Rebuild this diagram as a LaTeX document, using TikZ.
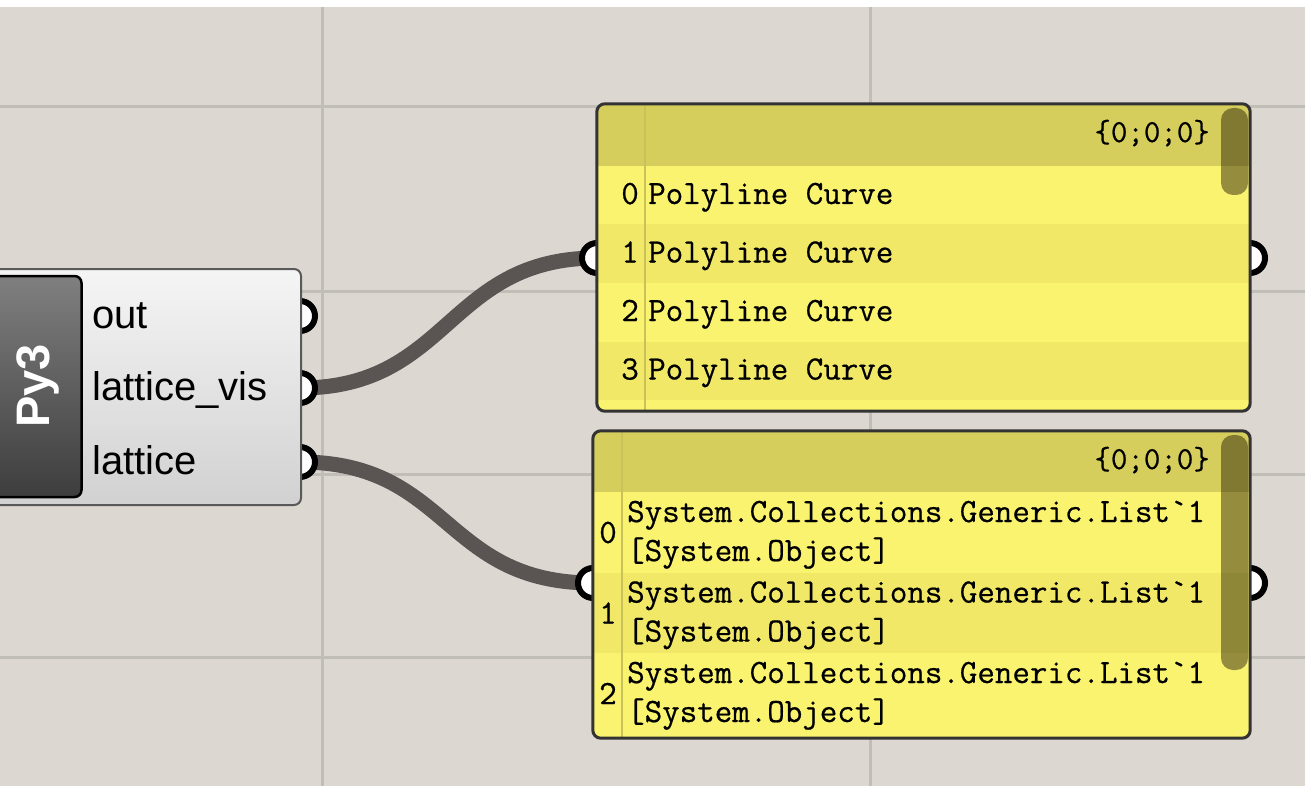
\documentclass[tikz,border=0pt]{standalone}
\usepackage{fontspec}
\setmainfont{Liberation Sans}
\newfontfamily\gridmono{Latin Modern Mono}[FakeBold=0.6]
\usetikzlibrary{positioning,calc}

\definecolor{canvas}{HTML}{DCD7D1}
\definecolor{gridgray}{HTML}{C1BEB8}
\definecolor{wiregray}{HTML}{5A5452}
\definecolor{headolive}{HTML}{D5CD5C}
\definecolor{rowlight}{HTML}{FAF36F}
\definecolor{rowdark}{HTML}{F0E866}
\definecolor{sepolive}{HTML}{C9C15A}
\definecolor{scrolldark}{HTML}{1B1301}

\begin{document}
\begin{tikzpicture}[
  x=1pt, y=-1pt,
  comp/.style={draw=black!65, line width=2, rounded corners=7, top color=black!4, bottom color=black!18, inner sep=0},
  namebox/.style={draw=black, line width=2.5, rounded corners=7, top color=black!50, middle color=black!73, bottom color=black!76, inner sep=0},
  lbl/.style={anchor=base west, font=\fontsize{40}{48}\selectfont, inner sep=0},
  grip/.style={circle, draw=black, line width=6, fill=white, minimum size=30, inner sep=0, outer sep=0},
  wire/.style={draw=wiregray, line width=15},
  panel/.style={fill=rowlight, rounded corners=8, inner sep=0},
  rim/.style={draw=black!80, line width=3, rounded corners=8},
  item/.style={anchor=base west, font=\gridmono\fontsize{34}{39}\selectfont, inner sep=0},
  idx/.style={font=\gridmono\fontsize{34}{39}\selectfont, inner sep=0},
  branch/.style={anchor=base east, font=\gridmono\fontsize{32}{36}\selectfont, inner sep=0},
  scrollbar/.style={fill=scrolldark, fill opacity=0.45, rounded corners=12}
]
\useasboundingbox (0,0) rectangle (1305,786);

% canvas and grid
\fill[white] (0,0) rectangle (1305,7);
\fill[canvas] (0,7) rectangle (1305,786);
\foreach \x in {322,870}
  \draw[gridgray, line width=3] (\x,7) -- (\x,786);
\foreach \y in {107,291,474,657}
  \draw[gridgray, line width=3] (0,\y) -- (1305,\y);

% grip positions
\coordinate (outpt) at (300,316);
\coordinate (vispt) at (300,388);
\coordinate (latpt) at (300,462);
\coordinate (curvesin) at (597,258);
\coordinate (curvesout) at (1250,258);
\coordinate (listsin) at (593,583);
\coordinate (listsout) at (1250,583);

% wires
\draw[wire] (vispt) .. controls +(150,0) and +(-150,0) .. (curvesin);
\draw[wire] (latpt) .. controls +(150,0) and +(-150,0) .. (listsin);

\foreach \g in {outpt,vispt,latpt,curvesin,curvesout,listsin,listsout}
  \node[grip] (\g-ring) at (\g) {};

% python component
\node[comp, minimum width=313, minimum height=236] (py3) at (144.5,387) {};
\node[namebox, minimum width=95, minimum height=221] (pyname) at (34,386.5) {};
\node[rotate=90, text=white, inner sep=0, font=\bfseries\fontsize{47}{54}\selectfont] (pytitle) at (38,386) {Py3};
\node[lbl] (out) at (92,328) {out};
\node[lbl] (vis) at (92,400) {lattice\_vis};
\node[lbl] (lat) at (92,474) {lattice};

% panel of curves
\node[panel, minimum width=653, minimum height=307] (curves) at (923.5,257.5) {};
\begin{scope}
  \clip[rounded corners=8] (curves.north west) rectangle (curves.south east);
  \fill[headolive] (597,104) rectangle (1250,166);
  \foreach \i in {1,3}
    \fill[rowdark] (597,166+58.5*\i) rectangle (1250,224.5+58.5*\i);
  \draw[sepolive, line width=1.5] (645,104) -- (645,411);
  \fill[scrollbar] (1221,108) rectangle (1248,195);
\end{scope}
\draw[rim] (curves.north west) rectangle (curves.south east);
\node[branch] (curveshead) at (1210,142) {\{0;0;0\}};
\foreach \i in {0,...,3} {
  \node[idx, anchor=base east] (cidx\i) at (639,204+58.5*\i) {\i};
  \node[item] (citem\i) at (648,204+58.5*\i) {Polyline Curve};
}

% panel of lists
\node[panel, minimum width=657, minimum height=307] (lists) at (921.5,584.5) {};
\begin{scope}
  \clip[rounded corners=8] (lists.north west) rectangle (lists.south east);
  \fill[headolive] (593,431) rectangle (1250,492);
  \fill[rowdark] (593,572.5) rectangle (1250,653);
  \draw[sepolive, line width=1.5] (622,431) -- (622,738);
  \fill[scrollbar] (1221,435) rectangle (1248,670);
\end{scope}
\draw[rim] (lists.north west) rectangle (lists.south east);
\node[branch] (listshead) at (1210,469) {\{0;0;0\}};
\foreach \i in {0,1,2} {
  \node[idx] (lidx\i) at (608,532.5+80.5*\i) {\i};
  \node[item] (ltype\i) at (627,522+80.5*\i) {System.Collections.Generic.List\textasciigrave 1};
  \node[item] (lobj\i) at (627,561+80.5*\i) {[System.Object]};
}
\end{tikzpicture}
\end{document}
